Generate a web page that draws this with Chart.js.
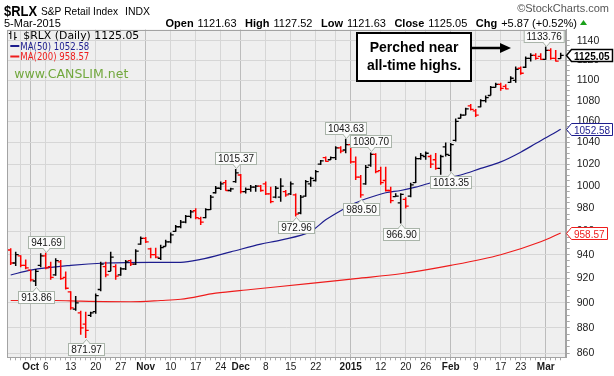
<!DOCTYPE html>
<html>
<head>
<meta charset="utf-8">
<title>$RLX S&amp;P Retail Index</title>
<script src="https://cdn.jsdelivr.net/npm/chart.js@4.4.1/dist/chart.umd.min.js"></script>
<style>
html,body{margin:0;padding:0;background:#fff;overflow:hidden}
canvas{display:block}
</style>
</head>
<body>
<canvas id="chart" width="614" height="376"></canvas>
<script>
// ---------------- DATA (trading-day index: 0 = 1-Oct-2014) ----------------
const firstIndex = -4;            // first bar = 25-Sep-2014
const closeBeforeFirst = 945;

const opens = [
  944, 933, 939, 931,
  927, 918, 931, 939, 930, 923, 934, 921, 909, 895,
  892, 883, 890, 893, 911, 930, 926, 930, 923, 928,
  935, 932, 949, 954, 945, 940, 937, 947, 951, 960,
  964, 968, 973, 978, 971, 972, 979, 994, 998, 1003,
  996, 1004, 1010, 995, 997, 999, 1000, 1002, 993, 990,
  990, 995, 993, 992, 976, 991, 1002, 1005, 1020, 1026,
  1024, 1026, 1035, 1033, 1038, 1022, 1008, 1002, 1019, 1029,
  1014, 1005, 996, 990.5, 985, 988, 991, 1003, 1025, 1027,
  1027, 1024, 1016, 1036, 1028, 1042, 1063, 1066, 1075, 1070,
  1074, 1080, 1085, 1093, 1096, 1094, 1098, 1100, 1112, 1113,
  1122, 1125, 1124, 1121, 1130, 1122, 1121.63
];
const highs = [
  945.5, 942.5, 939.5, 936,
  927.2, 928, 941.2, 941.69, 934, 937, 935.5, 925.8, 909.6, 905.7,
  893.7, 893, 893, 907.8, 934, 934, 942.5, 932, 929.4, 935.5,
  936, 944.6, 955.5, 955.2, 946, 946, 948.4, 952.7, 958.9, 965.6,
  969.9, 974.3, 978.6, 980.1, 972.8, 980.1, 991.9, 1000, 1004, 1005.5,
  998.5, 1015.37, 1010.9, 998.8, 1001, 1001, 1001, 1004, 999.4, 1000,
  1007, 996.4, 1004, 993.4, 992, 1005.5, 1008.5, 1014.5, 1023.8, 1026.9,
  1026.9, 1036.5, 1036.5, 1043.63, 1039.7, 1026.9, 1010, 1019.1, 1030.7, 1030.1,
  1017.6, 1017.6, 999.4, 993.5, 993.5, 990, 1003, 1027, 1030.2, 1031.7,
  1028.6, 1030.2, 1028.6, 1040, 1039.5, 1062.7, 1067.3, 1073, 1076.7, 1072,
  1081.4, 1084.9, 1094.4, 1097.6, 1097.6, 1096, 1104, 1113.8, 1113.8, 1123.7,
  1127.1, 1127.1, 1127.1, 1133.76, 1132.2, 1130.4, 1127.52
];
const lows = [
  931.3, 930.5, 929.4, 927.7,
  917.6, 913.86, 929.4, 927.7, 919, 922.3, 919, 911, 894.5, 893.7,
  874.6, 871.97, 888.6, 891.2, 909.6, 921.2, 926, 919, 922.3, 927.2,
  930.5, 931.3, 948.5, 950, 937, 937, 935.5, 947, 949.8, 959.7,
  962.7, 967, 971.4, 970.5, 965.6, 971.4, 978.6, 993.4, 996.4, 995.7,
  994.8, 1003, 993.4, 993.4, 994.8, 994.8, 994.8, 991.9, 984.6, 989,
  986, 990.4, 991.9, 972.96, 975, 990.4, 999.4, 1004, 1019.1, 1022.2,
  1023.8, 1023.8, 1030.1, 1030.1, 1020.6, 1005.5, 989.5, 1001.2, 1017.6, 1011.5,
  1001.2, 995, 984.6, 990.4, 966.9, 980, 990, 1002.7, 1023.9, 1023.9,
  1016.3, 1014.8, 1010.3, 1027, 1013.35, 1041, 1062.7, 1065.8, 1070.4, 1064.3,
  1073.6, 1078.3, 1084.9, 1092.8, 1089.6, 1091.2, 1097.6, 1097.6, 1105.6, 1112.2,
  1118.8, 1120.5, 1120.5, 1120.5, 1120.5, 1118.8, 1121.63
];
const closes = [
  933, 940, 931, 929,
  919, 926, 939, 929, 921, 935, 920, 912, 896, 900,
  880, 878, 892, 906, 932, 923, 938, 922, 928, 934,
  932, 943, 954, 951, 940, 938, 946, 951, 957, 964,
  968, 973, 977, 972, 968, 979, 990, 998, 1002, 996,
  997.5, 1012, 995, 997, 999, 1000, 996, 993, 986, 998,
  1000, 992, 1002, 975, 990, 1004, 1007, 1013, 1023, 1022.5,
  1026, 1035, 1032, 1038, 1022, 1008, 992, 1017, 1029, 1013,
  1003, 996, 987, 991, 992.5, 982, 1001, 1025, 1028, 1030,
  1020, 1016, 1027, 1029, 1038, 1060, 1066, 1072, 1071.5, 1066,
  1080, 1083, 1093, 1096, 1092, 1091.5, 1102, 1111, 1107, 1122,
  1125, 1122, 1121, 1130, 1122, 1119.18, 1125.05
];

// moving averages (trading-day index, value)
const ma50Idx = [-4, 0, 8, 15, 24, 30, 34, 40, 46, 50, 56, 59, 62, 65, 68, 71, 74, 77, 80, 83, 86, 90, 94, 98, 101, 104, 106];
const ma50Val = [923, 927, 931, 933, 933.6, 933.6, 936, 942.4, 949, 952.5, 960, 970, 978, 985, 990, 994, 996, 999, 1003, 1007, 1010, 1016, 1022, 1031, 1039, 1047, 1052.58];
const ma200Idx = [-4, 5, 10, 20, 26, 30, 37, 44, 56, 65, 74, 84, 94, 102, 106];
const ma200Val = [902, 902, 901.5, 901, 902, 903, 908, 911, 916, 920, 924, 931, 940, 951, 958.57];

// x-axis ticks (trading-day index) and their labels
const xTickIdx   = [-2, 0, 3, 8, 13, 18, 23, 28, 33, 38, 42, 47, 52, 57, 61, 64, 70, 75, 79, 84, 89, 94, 98, 103];
const xTickText  = ['', 'Oct', '6', '13', '20', '27', 'Nov', '10', '17', '24', 'Dec', '8', '15', '22', '', '2015', '12', '20', '26', 'Feb', '9', '17', '23', 'Mar'];
const xTickMajor = ['Oct', 'Nov', 'Dec', '2015', 'Feb', 'Mar'];

// y-axis labels
const yTickLabels = [860, 880, 900, 920, 940, 960, 980, 1000, 1020, 1040, 1060, 1080, 1100, 1120, 1140];
const yMinorStep = 5;

// annotated highs / lows
const peakIdx  = [3, 1, 11, 41, 53, 63, 66, 68, 74, 84, 103];
const peakVal  = [941.69, 913.86, 871.97, 1015.37, 972.96, 1043.63, 989.50, 1030.70, 966.90, 1013.35, 1133.76];
const peakSide = ['high', 'low', 'low', 'high', 'low', 'high', 'low', 'high', 'low', 'low', 'high'];

const symbol = '$RLX';
const title = 'S&P Retail Index';
const exchange = 'INDX';
const dateText = '5-Mar-2015';
const note = ['Perched near', 'all-time highs.'];

// ---------------- BUILD ----------------
const FONT = '"Liberation Sans", Arial, Helvetica, sans-serif';
const DV = '"DejaVu Sans", Verdana, sans-serif';
const RED = '#ff0000', BLK = '#000000', NAVY = '#1d1d8e', MARED = '#ee1c1c';

const xs = closes.map((_, k) => firstIndex + k);
const barColors = closes.map((c, k) => c >= (k === 0 ? closeBeforeFirst : closes[k - 1]) ? BLK : RED);
const hlData = xs.map((x, k) => ({ x, y: [lows[k], highs[k]] }));
const openData = xs.map((x, k) => ({ x, y: opens[k] }));
const closeData = xs.map((x, k) => ({ x, y: closes[k] }));
const ma50 = ma50Idx.map((x, k) => ({ x, y: ma50Val[k] }));
const ma200 = ma200Idx.map((x, k) => ({ x, y: ma200Val[k] }));

const allDays = [];
for (let i = firstIndex; i <= firstIndex + closes.length - 1; i++) allDays.push(i);
const yAllTicks = [];
for (let v = yTickLabels[0]; v <= yTickLabels[yTickLabels.length - 1]; v += yMinorStep) yAllTicks.push(v);

const lastK = closes.length - 1;
const lastClose = closes[lastK];
const chg = lastClose - closes[lastK - 1];
const chgPct = chg / closes[lastK - 1] * 100;

function txt(ctx, s, x, y, font, color, align, maxW) {
  ctx.font = font; ctx.fillStyle = color; ctx.textAlign = align || 'left'; ctx.textBaseline = 'alphabetic';
  if (maxW) ctx.fillText(s, x, y, maxW); else ctx.fillText(s, x, y);
}

const decor = {
  id: 'decor',
  beforeDraw(chart) {
    const { ctx, chartArea: a } = chart;
    ctx.save();
    ctx.fillStyle = '#ffffff'; ctx.fillRect(0, 0, chart.width, chart.height);
    ctx.fillStyle = '#efefef'; ctx.fillRect(a.left, a.top, a.right - a.left, a.bottom - a.top);
    ctx.restore();
  },
  afterDatasetsDraw(chart) {
    const { ctx, chartArea: a, scales } = chart;
    const xS = scales.x, yS = scales.y;
    ctx.save();
    // peak / trough value boxes
    ctx.font = '10px ' + FONT;
    peakIdx.forEach((i, k) => {
      const s = peakVal[k].toFixed(2);
      const px = xS.getPixelForValue(i);
      const py = yS.getPixelForValue(peakVal[k]);
      const w = Math.round(ctx.measureText(s).width + 5), h = 12;
      let bx = Math.round(px - w / 2);
      bx = Math.max(a.left + 2, Math.min(a.right - 3 - w, bx));
      const above = peakSide[k] === 'high';
      const by = above ? Math.round(py - 5 - h) : Math.round(py + 5);
      ctx.fillStyle = '#fbfbfb'; ctx.strokeStyle = '#a9b4a9'; ctx.lineWidth = 1;
      ctx.fillRect(bx + 0.5, by + 0.5, w, h);
      ctx.strokeRect(bx + 0.5, by + 0.5, w, h);
      // pointer
      ctx.beginPath();
      const cx = Math.round(px) + 0.5;
      if (above) { ctx.moveTo(cx - 3.5, by + h + 0.5); ctx.lineTo(cx, by + h + 4.5); ctx.lineTo(cx + 3.5, by + h + 0.5); }
      else { ctx.moveTo(cx - 3.5, by + 0.5); ctx.lineTo(cx, by - 3.5); ctx.lineTo(cx + 3.5, by + 0.5); }
      ctx.fillStyle = '#fbfbfb'; ctx.fill(); ctx.stroke();
      ctx.fillStyle = '#fbfbfb';
      ctx.fillRect(cx - 2.5, above ? by + h - 0.5 : by, 5, 1.5);
      txt(ctx, s, bx + w / 2 + 0.5, by + h - 2, '10px ' + FONT, '#151515', 'center');
    });

    // legend inside plot
    const lx = a.left;
    ctx.strokeStyle = '#000'; ctx.lineWidth = 1;
    ctx.beginPath();
    ctx.moveTo(lx + 3.5, 31); ctx.lineTo(lx + 3.5, 39); ctx.moveTo(lx + 1.5, 33.5); ctx.lineTo(lx + 3.5, 33.5);
    ctx.moveTo(lx + 7.5, 32); ctx.lineTo(lx + 7.5, 40); ctx.moveTo(lx + 7.5, 37.5); ctx.lineTo(lx + 9.5, 37.5);
    ctx.stroke();
    txt(ctx, symbol + ' (Daily) ' + lastClose.toFixed(2), lx + 16, 39, '11px ' + DV, '#000', 'left', 116);
    ctx.lineWidth = 2;
    ctx.strokeStyle = NAVY; ctx.beginPath(); ctx.moveTo(lx + 3, 46); ctx.lineTo(lx + 12, 46); ctx.stroke();
    txt(ctx, 'MA(50) ' + ma50Val[ma50Val.length - 1].toFixed(2), lx + 13, 49.5, '10px ' + DV, NAVY, 'left', 69);
    ctx.strokeStyle = MARED; ctx.beginPath(); ctx.moveTo(lx + 3, 56.5); ctx.lineTo(lx + 12, 56.5); ctx.stroke();
    txt(ctx, 'MA(200) ' + ma200Val[ma200Val.length - 1].toFixed(2), lx + 13, 60, '10px ' + DV, MARED, 'left', 69);
    txt(ctx, 'www.CANSLIM.net', lx + 7, 78, '12.5px ' + DV, '#72a83e', 'left', 119);

    // annotation box + arrow
    ctx.fillStyle = '#ffffff'; ctx.strokeStyle = '#000'; ctx.lineWidth = 2;
    ctx.fillRect(357, 33, 114, 48); ctx.strokeRect(357, 33, 114, 48);
    txt(ctx, note[0], 414, 52, 'bold 14px ' + FONT, '#000', 'center');
    txt(ctx, note[1], 414, 70, 'bold 14px ' + FONT, '#000', 'center');
    ctx.lineWidth = 2.5; ctx.beginPath(); ctx.moveTo(472, 48); ctx.lineTo(502, 48); ctx.stroke();
    ctx.fillStyle = '#000'; ctx.beginPath(); ctx.moveTo(500, 43); ctx.lineTo(511, 48); ctx.lineTo(500, 53); ctx.closePath(); ctx.fill();
    ctx.restore();
  },
  afterDraw(chart) {
    const { ctx, chartArea: a, scales } = chart;
    const yS = scales.y;
    ctx.save();
    // frame
    ctx.strokeStyle = '#a3a3a3'; ctx.lineWidth = 1;
    ctx.strokeRect(Math.round(a.left) + 0.5, Math.round(a.top) + 0.5, Math.round(a.right - a.left) - 1, Math.round(a.bottom - a.top) - 1);

    // right-axis value tags
    function tag(v, color, bold, lw) {
      const y = Math.round(yS.getPixelForValue(v)) + 0.5;
      const s = v.toFixed(2);
      const font = (bold ? 'bold ' : '') + '10px ' + FONT;
      ctx.font = font;
      const w = Math.round(ctx.measureText(s).width + 5), h = 12, tip = 5;
      const x0 = Math.round(a.right) - 0.5;
      ctx.beginPath();
      ctx.moveTo(x0, y); ctx.lineTo(x0 + tip, y - h / 2); ctx.lineTo(x0 + tip + w, y - h / 2);
      ctx.lineTo(x0 + tip + w, y + h / 2); ctx.lineTo(x0 + tip, y + h / 2); ctx.closePath();
      ctx.fillStyle = '#fff'; ctx.fill();
      ctx.strokeStyle = color; ctx.lineWidth = lw; ctx.stroke();
      txt(ctx, s, x0 + tip + 2.5, y + 4, font, color, 'left');
    }
    tag(ma200Val[ma200Val.length - 1], MARED, false, 1);
    tag(ma50Val[ma50Val.length - 1], NAVY, false, 1);
    tag(lastClose, '#000', true, 1.5);

    // header
    txt(ctx, symbol, 4, 16, 'bold 15px ' + FONT, '#000', 'left', 33);
    txt(ctx, title, 41, 15, '11px ' + FONT, '#000', 'left', 77);
    txt(ctx, exchange, 125, 15, '11px ' + FONT, '#000', 'left', 25);
    txt(ctx, '\u00A9StockCharts.com', 609, 12, '11px ' + FONT, '#555', 'right');
    txt(ctx, dateText, 4, 27, '11px ' + FONT, '#000', 'left');

    const segs = [
      ['Open', true], [opens[lastK].toFixed(2), false],
      ['High', true], [highs[lastK].toFixed(2), false],
      ['Low', true], [lows[lastK].toFixed(2), false],
      ['Close', true], [lastClose.toFixed(2), false],
      ['Chg', true], [(chg >= 0 ? '+' : '') + chg.toFixed(2) + ' (' + (chgPct >= 0 ? '+' : '') + chgPct.toFixed(2) + '%)', false]
    ];
    const gapLV = 4, gapG = 8.5;
    let total = 0;
    segs.forEach((sg, k) => {
      ctx.font = (sg[1] ? 'bold ' : '') + '11px ' + FONT;
      total += ctx.measureText(sg[0]).width;
      if (k < segs.length - 1) total += (k % 2 === 0) ? gapLV : gapG;
    });
    let x = 577 - total;
    segs.forEach((sg, k) => {
      const f = (sg[1] ? 'bold ' : '') + '11px ' + FONT;
      txt(ctx, sg[0], x, 27, f, '#000', 'left');
      ctx.font = f;
      x += ctx.measureText(sg[0]).width + ((k % 2 === 0) ? gapLV : gapG);
    });
    ctx.fillStyle = chg >= 0 ? '#1aa01a' : '#d00';
    ctx.beginPath(); ctx.moveTo(580, 25); ctx.lineTo(587, 25); ctx.lineTo(583.5, 20); ctx.closePath(); ctx.fill();
    ctx.restore();
  }
};

Chart.defaults.font.family = FONT;

new Chart(document.getElementById('chart').getContext('2d'), {
  type: 'bar',
  data: {
    datasets: [
      { type: 'bar', data: hlData, backgroundColor: barColors, borderWidth: 0, barThickness: 1.5,
        inflateAmount: 0, grouped: false, order: 1 },
      { type: 'scatter', data: openData, pointStyle: 'dash', rotation: 180, pointRadius: 3,
        pointBorderWidth: 1.3, pointBorderColor: barColors, pointBackgroundColor: barColors, order: 1 },
      { type: 'scatter', data: closeData, pointStyle: 'dash', rotation: 0, pointRadius: 3,
        pointBorderWidth: 1.3, pointBorderColor: barColors, pointBackgroundColor: barColors, order: 1 },
      { type: 'line', data: ma50, borderColor: NAVY, borderWidth: 1.2, pointRadius: 0,
        cubicInterpolationMode: 'monotone', fill: false, order: 3 },
      { type: 'line', data: ma200, borderColor: MARED, borderWidth: 1.2, pointRadius: 0,
        cubicInterpolationMode: 'monotone', fill: false, order: 3 }
    ]
  },
  options: {
    responsive: false, animation: false, devicePixelRatio: 1, events: [],
    layout: { padding: { left: 7.3, top: 29.5, right: 0, bottom: 0 } },
    plugins: { legend: { display: false }, tooltip: { enabled: false } },
    scales: {
      x: {
        type: 'linear', position: 'bottom', min: -4.68, max: 107.2, offset: false, bounds: 'data',
        afterBuildTicks: (s) => { s.ticks = allDays.map(v => ({ value: v })); },
        afterFit: (s) => { s.height = 18.7; },
        grid: {
          offset: false, lineWidth: 1, drawTicks: true, tickLength: 3, tickWidth: 1,
          color: (c) => {
            const k = xTickIdx.indexOf(c.tick ? c.tick.value : NaN);
            if (k < 0) return 'rgba(0,0,0,0)';
            return xTickMajor.includes(xTickText[k]) ? '#bcbcbc' : '#d6d6d6';
          },
          tickColor: '#a8a8a8'
        },
        border: { display: true, color: '#a3a3a3' },
        ticks: {
          autoSkip: false, maxRotation: 0, minRotation: 0, padding: 1, color: '#1a1a1a',
          font: (c) => {
            const k = xTickIdx.indexOf(c.tick ? c.tick.value : NaN);
            const major = k >= 0 && xTickMajor.includes(xTickText[k]);
            return { family: FONT, size: 10, weight: major ? 'bold' : 'normal' };
          },
          callback: (v) => { const k = xTickIdx.indexOf(v); return k >= 0 ? xTickText[k] : ''; }
        }
      },
      y: {
        type: 'logarithmic', position: 'right', min: 857, max: 1151.5, bounds: 'data',
        afterBuildTicks: (s) => { s.ticks = yAllTicks.map(v => ({ value: v })); },
        afterFit: (s) => { s.width = 47.3; },
        grid: {
          lineWidth: 1, drawTicks: true, tickLength: 3,
          color: (c) => (c.tick && yTickLabels.includes(c.tick.value)) ? '#d6d6d6' : 'rgba(0,0,0,0)',
          tickColor: '#a8a8a8'
        },
        border: { display: true, color: '#a3a3a3' },
        ticks: {
          autoSkip: false, padding: 7, color: '#1a1a1a', font: { family: FONT, size: 10.5 },
          callback: (v) => yTickLabels.includes(v) ? String(v) : ''
        }
      }
    }
  },
  plugins: [decor]
});
</script>
</body>
</html>
